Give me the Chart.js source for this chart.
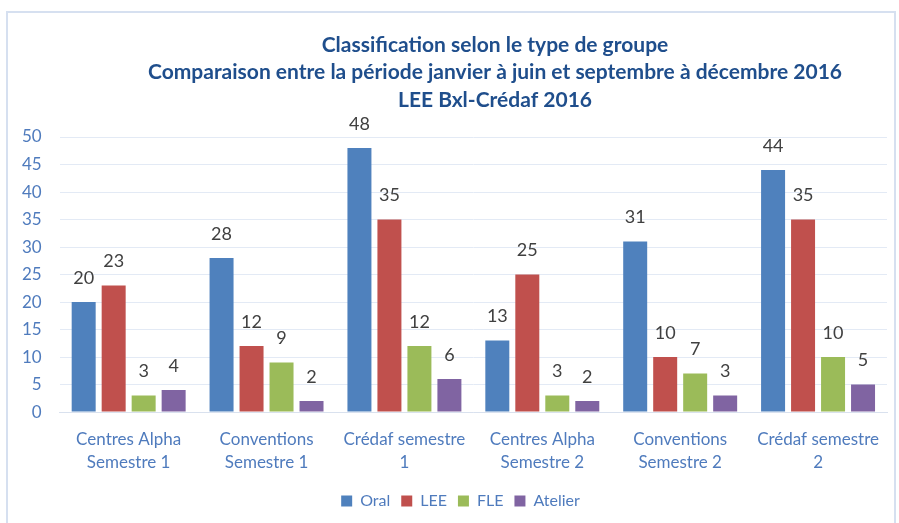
<!DOCTYPE html>
<html lang="fr">
<head>
    <meta charset="UTF-8">
    <title>Classification selon le type de groupe</title>
    <style>
        html, body { margin: 0; padding: 0; background: #fff; }
        #wrap { width: 899px; height: 523px; }
    </style>
</head>
<body>
    <div id="wrap"><canvas id="chart" width="899" height="523"></canvas></div>

    <script src="https://cdn.jsdelivr.net/npm/chart.js@4.4.1/dist/chart.umd.min.js"></script>
    <script>
        // data
        var categories = [
            ['Centres Alpha', 'Semestre 1'],
            ['Conventions', 'Semestre 1'],
            ['Crédaf semestre', '1'],
            ['Centres Alpha', 'Semestre 2'],
            ['Conventions', 'Semestre 2'],
            ['Crédaf semestre', '2']
        ];
        var oral = [20, 28, 48, 13, 31, 44];
        var lee = [23, 12, 35, 25, 10, 35];
        var fle = [3, 9, 12, 3, 7, 10];
        var atelier = [4, 2, 6, 2, 3, 5];
        var yTicks = [0, 5, 10, 15, 20, 25, 30, 35, 40, 45, 50];

        var titleLines = [
            'Classification selon le type de groupe',
            'Comparaison entre la période janvier à juin et septembre à décembre 2016',
            'LEE Bxl-Crédaf 2016'
        ];

        var fontFam = 'Lato, "Open Sans", sans-serif';
        var blue = '#4F7BBD';

        // numbers above bars
        var valueLabels = {
            id: 'valueLabels',
            afterDatasetsDraw: function(chart) {
                var ctx = chart.ctx;
                ctx.save();
                ctx.font = '18px ' + fontFam;
                ctx.fillStyle = '#404040';
                ctx.textAlign = 'center';
                ctx.textBaseline = 'middle';
                chart.data.datasets.forEach(function(ds, i) {
                    chart.getDatasetMeta(i).data.forEach(function(bar, j) {
                        ctx.fillText(ds.data[j], bar.x, bar.y - 24);
                    });
                });
                ctx.restore();
            }
        };

        // title sits a little right of centre, as in the original
        var offsetTitle = {
            id: 'offsetTitle',
            afterDraw: function(chart) {
                var ctx = chart.ctx;
                ctx.save();
                ctx.font = 'bold 21px ' + fontFam;
                ctx.fillStyle = '#1F4E8C';
                ctx.textAlign = 'center';
                ctx.textBaseline = 'middle';
                titleLines.forEach(function(line, i) {
                    ctx.fillText(line, 495, 45 + i * 27.5);
                });
                ctx.restore();
            }
        };

        // legend is centred under the plot, not the whole canvas
        var nudgeLegend = {
            id: 'nudgeLegend',
            afterUpdate: function(chart) {
                chart.legend.left += 15;
                chart.legend.right += 15;
            }
        };

        // thin frame round the chart (top, left, right; bottom is cut off)
        var frame = {
            id: 'frame',
            beforeDraw: function(chart) {
                var ctx = chart.ctx;
                ctx.save();
                ctx.strokeStyle = '#D6E0F0';
                ctx.lineWidth = 2;
                ctx.beginPath();
                ctx.moveTo(7, 523);
                ctx.lineTo(7, 12);
                ctx.lineTo(895, 12);
                ctx.lineTo(895, 523);
                ctx.stroke();
                ctx.restore();
            }
        };

        new Chart(document.getElementById('chart'), {
            type: 'bar',
            data: {
                labels: categories,
                datasets: [
                    { label: 'Oral', data: oral, backgroundColor: '#4F81BD' },
                    { label: 'LEE', data: lee, backgroundColor: '#C0504D' },
                    { label: 'FLE', data: fle, backgroundColor: '#9BBB59' },
                    { label: 'Atelier', data: atelier, backgroundColor: '#8064A2' }
                ]
            },
            options: {
                responsive: false,
                animation: false,
                layout: { padding: { left: 4, right: 12, top: 137, bottom: 4 } },
                datasets: {
                    bar: { categoryPercentage: 0.87, barPercentage: 0.8 }
                },
                plugins: {
                    title: { display: false },
                    legend: {
                        position: 'bottom',
                        labels: {
                            color: blue,
                            font: { family: fontFam, size: 16 },
                            boxWidth: 11,
                            boxHeight: 11,
                            padding: 11
                        }
                    },
                    tooltip: { enabled: false }
                },
                scales: {
                    x: {
                        grid: { display: false },
                        border: { color: '#D9E1EE' },
                        ticks: {
                            color: blue,
                            font: { family: fontFam, size: 17, lineHeight: 1.35 },
                            maxRotation: 0,
                            padding: 8
                        }
                    },
                    y: {
                        min: 0,
                        max: 50,
                        afterBuildTicks: function(axis) {
                            axis.ticks = yTicks.map(function(v) { return { value: v }; });
                        },
                        grid: { color: '#E3EAF5', drawTicks: false },
                        border: { display: false },
                        ticks: {
                            color: blue,
                            font: { family: fontFam, size: 17 },
                            padding: 18
                        }
                    }
                }
            },
            plugins: [valueLabels, offsetTitle, nudgeLegend, frame]
        });
    </script>
</body>
</html>
